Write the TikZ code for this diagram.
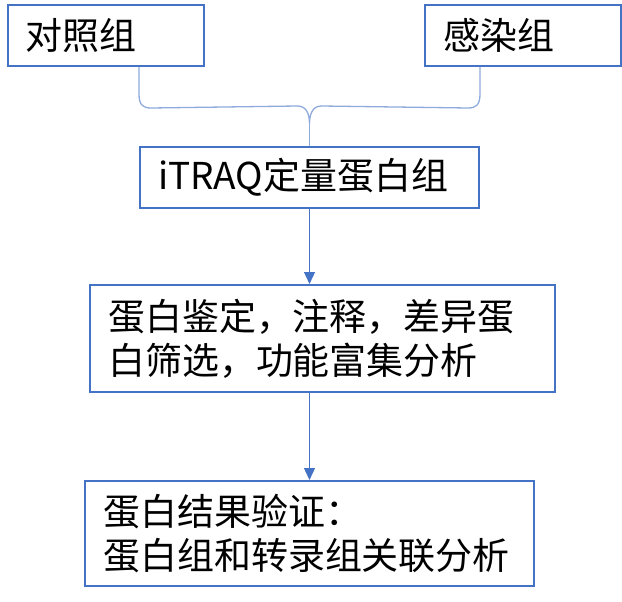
\documentclass[tikz,border=0pt]{standalone}
\usepackage{fontspec}
\setmainfont{Noto Sans CJK SC}
\usetikzlibrary{arrows.meta,positioning,calc}
\definecolor{boxblue}{HTML}{4472C4}
\definecolor{braceblue}{HTML}{8FAADC}

\begin{document}
\begin{tikzpicture}[x=1pt,y=-1pt,
    every node/.style={font=\fontsize{37}{44}\selectfont},
    box/.style={draw=boxblue,line width=2pt,align=left,inner xsep=18pt,inner ysep=0pt},
    brace line/.style={draw=braceblue,line width=1.3pt},
    flow/.style={draw=boxblue,line width=1.3pt,-{Triangle[length=12pt,width=11pt]}}]
   \useasboundingbox (0,0) rectangle (622,602);
   \node[box,text width=160pt,minimum height=61pt] (ctrl) at (106,35.5) {对照组};
   \node[box,text width=160pt,minimum height=61pt] (inf) at (523,35.5) {感染组};
   \node[box,text width=303pt,minimum height=61pt] (itraq) at (309.5,177.5) {iTRAQ定量蛋白组};
   \node[box,text width=429pt,minimum height=107pt] (ident) at (322.5,338.5) {蛋白鉴定，注释，差异蛋\\白筛选，功能富集分析};
   \node[box,text width=413pt,minimum height=105pt] (verify) at (309.5,533.5) {蛋白结果验证：\\蛋白组和转录组关联分析};
   % brace joining the two groups
   \coordinate (bl) at (itraq.north west |- ctrl.south);
   \coordinate (br) at (itraq.north east |- inf.south);
   \coordinate (tip) at (itraq.north);
   \draw[brace line] (bl) -- ++(0,27) .. controls +(0,11) and +(-8,0) .. ++(12,14)
      -- ($(tip)+(-12,-40)$) .. controls +(9,0) and +(0,-10) .. ($(tip)+(0,-22)$)
      .. controls +(0,-10) and +(-9,0) .. ($(tip)+(12,-40)$)
      -- ($(br)+(-12,41)$) .. controls +(8,0) and +(0,11) .. ($(br)+(0,27)$) -- (br);
   \draw[brace line] ($(tip)+(0,-22)$) -- (tip);
   % flow arrows
   \draw[flow] (itraq.south) -- (itraq.south |- ident.north);
   \draw[flow] (verify.north |- ident.south) -- (verify.north);
\end{tikzpicture}
\end{document}
